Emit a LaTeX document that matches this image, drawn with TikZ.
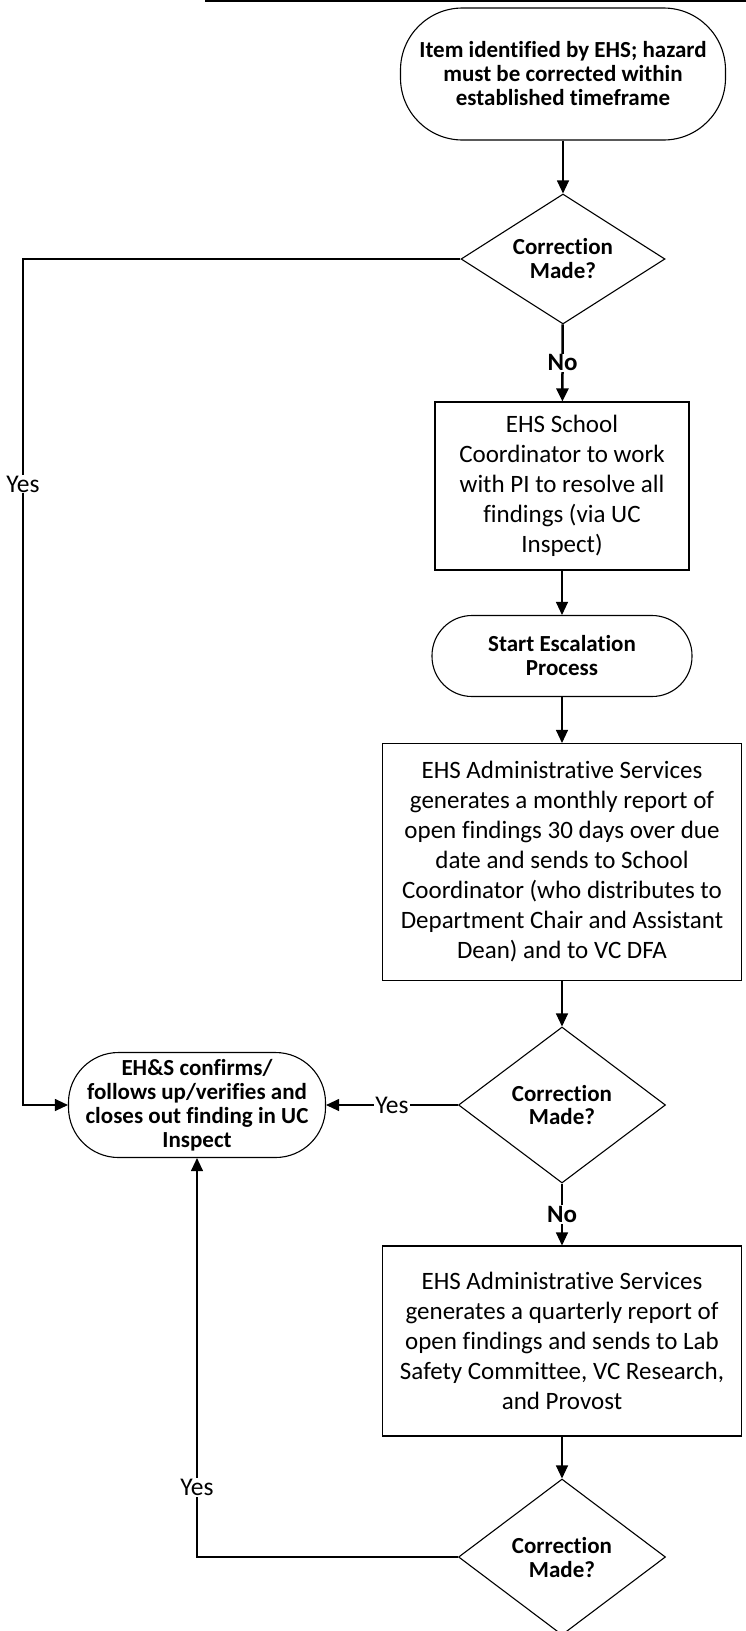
\documentclass[tikz,border=0pt]{standalone}
\usepackage{fontspec}
\setmainfont[Ligatures={NoCommon, NoRare}]{Carlito}
\usetikzlibrary{shapes.geometric, arrows.meta}

\newcommand{\boldtxt}{\bfseries\fontsize{23}{24}\selectfont}
\newcommand{\plaintxt}{\fontsize{25}{30}\selectfont}
\newcommand{\yestxt}{\fontsize{25.5}{28}\selectfont}
\newcommand{\notxt}{\bfseries\fontsize{25}{28}\selectfont}

\begin{document}
\begin{tikzpicture}[x=1pt, y=-1pt, line width=1.1pt,
    term/.style={draw, rectangle, rounded corners=40pt, align=center, font=\boldtxt, inner sep=0pt},
    proc/.style={draw, rectangle, align=center, font=\plaintxt, inner sep=0pt},
    dec/.style={draw, diamond, aspect=1.5, align=center, font=\boldtxt, inner sep=0pt},
    flow/.style={-{Triangle[length=13pt, width=12pt]}},
    lbl/.style={fill=white, inner sep=1pt, font=\yestxt}]
  \useasboundingbox (0, 0) rectangle (746, 1631);
  \draw[line width=1.5pt] (205, 1) -- (746, 1);

  \draw (563, 74)   node[term, minimum width=325pt, minimum height=132pt, rounded corners=62pt] (start)
    {Item identified by EHS; hazard\\must be corrected within\\established timeframe};
  \draw (563, 259)  node[dec, minimum width=204pt, minimum height=130pt] (d1) {Correction\\Made?};
  \draw (562, 486)  node[proc, minimum width=254pt, minimum height=168pt] (box1)
    {EHS School\\Coordinator to work\\with PI to resolve all\\findings (via UC\\Inspect)};
  \draw (562, 656)  node[term, minimum width=260pt, minimum height=81pt] (esc) {Start Escalation\\Process};
  \draw (562, 862)  node[proc, minimum width=359pt, minimum height=237pt] (box2)
    {EHS Administrative Services\\generates a monthly report of\\open findings 30 days over due\\date and sends to School\\Coordinator (who distributes to\\Department Chair and Assistant\\Dean) and to VC DFA};
  \draw (562, 1105) node[dec, minimum width=207pt, minimum height=156pt] (d2) {Correction\\Made?};
  \draw (197, 1105) node[term, minimum width=257pt, minimum height=105pt, rounded corners=50pt] (close)
    {EH\&S confirms/\\follows up/verifies and\\closes out finding in UC\\Inspect};
  \draw (562, 1341) node[proc, minimum width=359pt, minimum height=190pt] (box3)
    {EHS Administrative Services\\generates a quarterly report of\\open findings and sends to Lab\\Safety Committee, VC Research,\\and Provost};
  \draw (562, 1557) node[dec, minimum width=207pt, minimum height=156pt] (d3) {Correction\\Made?};
  \coordinate (lx) at (23, 0);

  \draw[flow] (start) -- (d1);
  \draw[flow, line width=2.5pt] (d1) -- node[lbl, font=\notxt] {No} (box1);
  \draw[flow] (box1) -- (esc);
  \draw[flow] (esc) -- (box2);
  \draw[flow] (box2) -- (d2);
  \draw[flow] (d2) -- node[lbl] {Yes} (close);
  \draw[flow] (d2) -- node[lbl, font=\notxt] {No} (box3);
  \draw[flow] (box3) -- (d3);
  \draw[flow] (d1.west) -| node[pos=0.633, lbl] {Yes} (lx |- close.west) -- (close.west);
  \draw[flow] (d3.west) -| node[pos=0.587, lbl] {Yes} (close.south);
\end{tikzpicture}
\end{document}
